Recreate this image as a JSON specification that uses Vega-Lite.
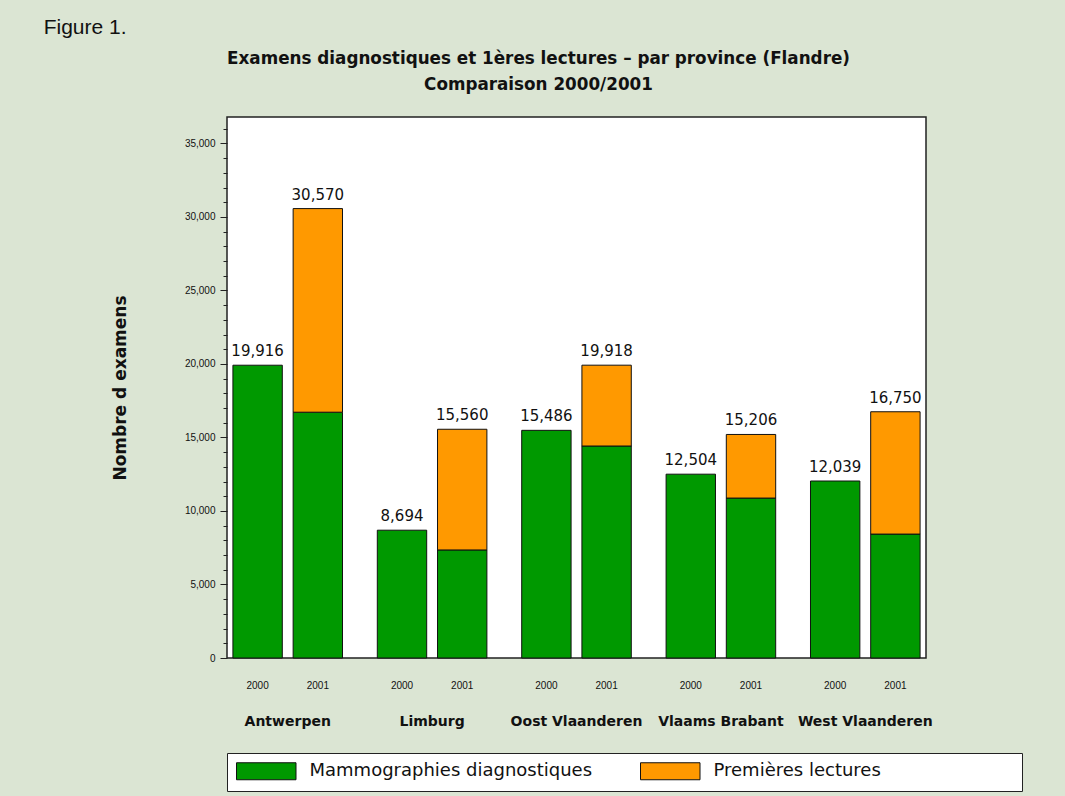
{
  "$schema": "https://vega.github.io/schema/vega-lite/v6.json",
  "background": "#dbe5d3",
  "padding": {"left": 43, "top": 17, "right": 43, "bottom": 4},
  "title": {"text": "Figure 1.", "anchor": "start", "frame": "bounds", "dx": -67, "font": "Liberation Sans", "fontSize": 21, "fontWeight": "normal", "color": "#111", "offset": 12},
  "vconcat": [
    {
      "title": {"text": ["Examens diagnostiques et 1ères lectures – par province (Flandre)", "Comparaison 2000/2001"], "anchor": "middle", "frame": "group", "dx": -38, "font": "DejaVu Sans", "fontSize": 16.8, "fontWeight": "bold", "color": "#111", "lineHeight": 26, "offset": 23},
      "width": 699,
      "height": 541,
      "data": {"values": [
        {"province": "Antwerpen", "year": "2000", "type": "Mammographies diagnostiques", "value": 19916},
        {"province": "Antwerpen", "year": "2001", "type": "Mammographies diagnostiques", "value": 16720},
        {"province": "Antwerpen", "year": "2001", "type": "Premières lectures", "value": 13850},
        {"province": "Limburg", "year": "2000", "type": "Mammographies diagnostiques", "value": 8694},
        {"province": "Limburg", "year": "2001", "type": "Mammographies diagnostiques", "value": 7350},
        {"province": "Limburg", "year": "2001", "type": "Premières lectures", "value": 8210},
        {"province": "Oost Vlaanderen", "year": "2000", "type": "Mammographies diagnostiques", "value": 15486},
        {"province": "Oost Vlaanderen", "year": "2001", "type": "Mammographies diagnostiques", "value": 14420},
        {"province": "Oost Vlaanderen", "year": "2001", "type": "Premières lectures", "value": 5498},
        {"province": "Vlaams Brabant", "year": "2000", "type": "Mammographies diagnostiques", "value": 12504},
        {"province": "Vlaams Brabant", "year": "2001", "type": "Mammographies diagnostiques", "value": 10880},
        {"province": "Vlaams Brabant", "year": "2001", "type": "Premières lectures", "value": 4326},
        {"province": "West Vlaanderen", "year": "2000", "type": "Mammographies diagnostiques", "value": 12039},
        {"province": "West Vlaanderen", "year": "2001", "type": "Mammographies diagnostiques", "value": 8430},
        {"province": "West Vlaanderen", "year": "2001", "type": "Premières lectures", "value": 8320}
      ]},
      "encoding": {
        "x": {"field": "province", "type": "nominal", "sort": null,
          "scale": {"paddingInner": 0.241, "paddingOuter": 0.041},
          "axis": {"title": null, "labelFont": "DejaVu Sans", "labelFontWeight": "bold", "labelFontSize": 14, "labelPadding": 63, "ticks": false, "domain": false, "labelAngle": 0, "labelColor": "#111", "labelOverlap": false, "labelBaseline": "middle"}},
        "xOffset": {"field": "year", "type": "nominal", "scale": {"paddingInner": 0.18, "paddingOuter": 0}}
      },
      "layer": [
        {
          "mark": {"type": "bar", "stroke": "#111", "strokeWidth": 1},
          "encoding": {
            "y": {"field": "value", "type": "quantitative", "aggregate": "sum", "stack": "zero",
              "scale": {"domain": [0, 36800], "nice": false},
              "axis": {
                "title": "Nombre d examens",
                "titleFont": "DejaVu Sans", "titleFontSize": 17, "titleFontWeight": "bold", "titleColor": "#111", "titlePadding": 55,
                "values": [0,1000,2000,3000,4000,5000,6000,7000,8000,9000,10000,11000,12000,13000,14000,15000,16000,17000,18000,19000,20000,21000,22000,23000,24000,25000,26000,27000,28000,29000,30000,31000,32000,33000,34000,35000,36000],
                "tickCount": 100,
                "labelExpr": "datum.value % 5000 === 0 ? format(datum.value, ',') : ''",
                "tickSize": {"condition": {"test": "datum.value % 5000 === 0", "value": 7}, "value": 4},
                "tickColor": "#222",
                "labelFont": "Liberation Sans", "labelFontSize": 10, "labelColor": "#111", "labelPadding": 5,
                "labelOverlap": false,
                "grid": false, "domain": false
              }},
            "color": {"field": "type", "type": "nominal",
              "scale": {"domain": ["Mammographies diagnostiques", "Premières lectures"], "range": ["#009900", "#ff9900"]},
              "legend": {"title": null, "labelExpr": "datum.index === 1 ? datum.label + '\u00a0\u00a0\u00a0\u00a0\u00a0\u00a0\u00a0\u00a0\u00a0\u00a0\u00a0\u00a0\u00a0\u00a0\u00a0\u00a0\u00a0\u00a0\u00a0\u00a0\u00a0\u00a0\u00a0\u200b' : datum.label"}},
            "order": {"field": "type", "sort": "ascending"}
          }
        },
        {
          "transform": [{"aggregate": [{"op": "sum", "field": "value", "as": "total"}], "groupby": ["province", "year"]}],
          "mark": {"type": "text", "baseline": "bottom", "dy": -6, "font": "DejaVu Sans", "fontSize": 15, "color": "#111"},
          "encoding": {
            "y": {"field": "total", "type": "quantitative"},
            "text": {"field": "total", "type": "quantitative", "format": ","}
          }
        },
        {
          "transform": [{"aggregate": [{"op": "sum", "field": "value", "as": "total"}], "groupby": ["province", "year"]}],
          "mark": {"type": "text", "baseline": "middle", "dy": 28, "font": "Liberation Sans", "fontSize": 10, "color": "#111"},
          "encoding": {
            "y": {"datum": 0, "type": "quantitative"},
            "text": {"field": "year", "type": "nominal"}
          }
        }
      ]
    }
  ],
  "config": {
    "view": {"fill": "white", "stroke": "#222", "strokeWidth": 1.5},
    "legend": {
      "orient": "bottom", "direction": "horizontal", "columns": 2, "gridAlign": "each",
      "fillColor": "white", "strokeColor": "#222", "padding": 9, "offset": 24,
      "symbolType": "M-1,-1H6V1H-1Z", "symbolSize": 289,
      "symbolStrokeColor": "#111", "symbolStrokeWidth": 1, "symbolOpacity": 1,
      "labelFont": "DejaVu Sans", "labelFontSize": 18, "labelColor": "#111", "labelOffset": 55.5, "columnPadding": 45, "labelLimit": 600
    }
  }
}
